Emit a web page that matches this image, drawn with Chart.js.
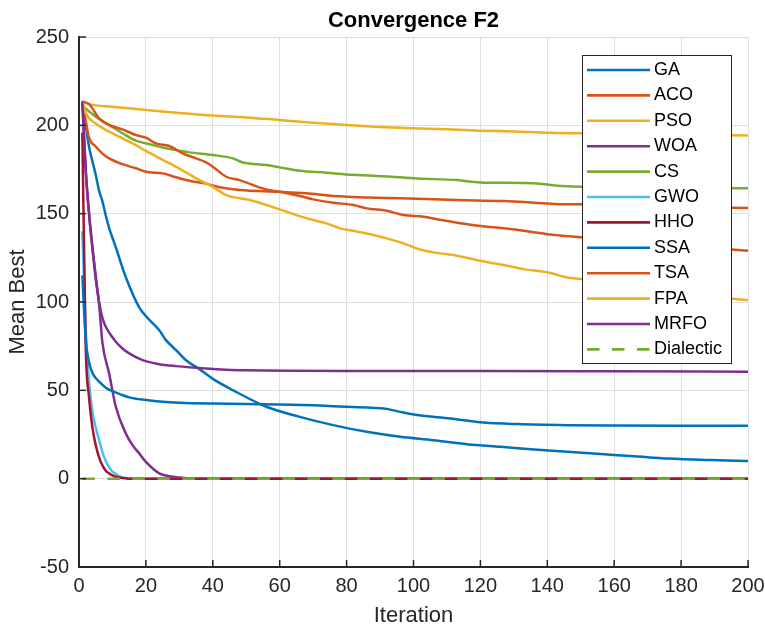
<!DOCTYPE html>
<html><head><meta charset="utf-8">
<script src="https://cdn.jsdelivr.net/npm/chart.js@4.4.0/dist/chart.umd.min.js"></script>
<style>html,body{margin:0;padding:0;background:#fff;}canvas{display:block;}</style>
</head><body>
<canvas id="c" width="765" height="629"></canvas>
<script>
const chartTitle = 'Convergence F2';
const xTitle = 'Iteration';
const yTitle = 'Mean Best';
const xTicks = [0, 20, 40, 60, 80, 100, 120, 140, 160, 180, 200];
const yTicks = [-50, 0, 50, 100, 150, 200, 250];
const seriesNames = ['GA','ACO','PSO','WOA','CS','GWO','HHO','SSA','TSA','FPA','MRFO','Dialectic'];
const seriesColors = ['#0072BD','#D95319','#EDB120','#7E2F8E','#77AC30','#4DBEEE','#A2142F','#0072BD','#D95319','#EDB120','#7E2F8E','#77AC30'];

const gaIter = [1, 2, 3, 5, 6, 7, 8, 9, 11, 14, 18, 21, 24, 26, 29, 32, 36, 40, 46, 56, 66, 76, 86, 96, 106, 116, 126, 136, 146, 156, 166, 176, 189, 200];
const gaVals = [213.5, 200, 188, 172, 163, 157, 149, 142, 131, 114, 97, 90, 84, 78.4, 72.8, 67, 62, 56.5, 50.1, 40.7, 35, 30.3, 26.5, 23.7, 21.8, 19.5, 18, 16.5, 15.2, 13.9, 12.7, 11.4, 10.5, 10];

const acoIter = [1, 2, 3, 5, 7, 9, 13, 17, 20, 25, 29, 33, 38, 42, 48, 60, 68, 76, 86, 96, 113, 127, 136, 143, 150, 160, 170, 180, 190, 200];
const acoVals = [213.5, 203, 193, 188, 184, 181.3, 178, 175.7, 173.7, 172.8, 170.6, 168.6, 167, 165, 163.4, 162.4, 161.5, 160, 159.2, 158.7, 157.7, 157.1, 156.2, 155.4, 155.3, 154.8, 154.3, 153.8, 153.5, 153.2];

const psoIter = [1, 3, 10, 20, 30, 40, 50, 60, 70, 80, 90, 100, 110, 120, 130, 140, 150, 160, 170, 180, 190, 200];
const psoVals = [213.5, 212, 210.5, 208.7, 207, 205.5, 204.5, 203, 201.5, 200.2, 199, 198.3, 197.8, 197, 196.5, 195.8, 195.5, 195.2, 195, 194.8, 194.5, 194.2];

const woaIter = [1, 2, 3, 4, 5, 6, 7, 9, 11, 14, 16, 18, 20, 24, 27, 30, 33, 35, 200];
const woaVals = [213.5, 175, 150, 131, 113, 99, 77, 59.6, 40.7, 25.6, 19, 14.3, 9.5, 3, 1.4, 0.6, 0.1, 0, 0];

const csIter = [1, 5, 9, 13, 17, 20, 25, 29, 33, 40, 46, 49, 56, 60, 66, 74, 80, 88, 96, 100, 113, 120, 136, 143, 150, 160, 170, 180, 190, 200];
const csVals = [211, 204.9, 200.2, 195.5, 191.3, 189.8, 187.5, 186, 184.7, 183.2, 181.3, 179, 177.5, 176.2, 174.3, 173.2, 172.2, 171.5, 170.6, 170, 169, 167.7, 167.2, 165.8, 165.2, 165, 164.8, 164.6, 164.5, 164.4];

const gwoIter = [1, 2, 3, 4, 5, 6, 7, 8, 9, 10, 11, 12, 13, 14, 15, 200];
const gwoVals = [140, 85, 55, 38, 29, 22, 15, 10, 6.5, 4, 2.8, 1.5, 0.8, 0.3, 0, 0];

const hhoIter = [1, 2, 3, 4, 5, 6, 7, 8, 9, 10, 11, 12, 13, 14, 15, 200];
const hhoVals = [196, 75, 46, 29, 19, 12, 7.5, 4.5, 3, 1.8, 1.1, 0.7, 0.4, 0.2, 0, 0];

const ssaIter = [1, 2, 3, 4, 5, 6, 8, 10, 12, 15, 20, 25, 30, 40, 50, 60, 70, 76, 86, 92, 96, 101, 111, 121, 131, 146, 160, 180, 200];
const ssaVals = [115, 79, 66, 60, 57, 55, 51.5, 49.5, 48, 46, 44.5, 43.5, 43, 42.5, 42.2, 42, 41.5, 41, 40.3, 39.5, 37.8, 36, 34.1, 31.8, 30.9, 30.3, 30.1, 30, 30];

const tsaIter = [1, 3, 6, 9, 13, 17, 20, 23, 27, 31, 35, 38, 40, 44, 48, 52, 56, 60, 66, 70, 76, 82, 86, 92, 97, 103, 107, 113, 120, 127, 135, 140, 150, 160, 170, 180, 190, 200];
const tsaVals = [213.5, 212, 204, 200.2, 197.7, 194.5, 193, 189.8, 188.3, 184.1, 181.3, 179, 176.6, 170.9, 169, 166.2, 163.7, 162.4, 160, 158.1, 156.2, 154.9, 153, 151.6, 149.2, 148.2, 146.8, 144.9, 143, 141.7, 139.8, 138.4, 136.6, 135, 133.5, 132, 130.5, 129];

const fpaIter = [1, 2, 5, 9, 13, 17, 20, 25, 30, 36, 40, 44, 48, 51, 56, 60, 65, 70, 74, 78, 82, 88, 92, 97, 101, 106, 113, 120, 127, 133, 140, 146, 150, 160, 170, 180, 190, 200];
const fpaVals = [213.5, 207, 201, 196.4, 192.6, 188.8, 185.5, 180.5, 175.5, 169, 165.2, 160.5, 158.7, 157.7, 154.9, 152.4, 149.2, 146.4, 144.5, 141.7, 140.3, 137.9, 136, 133.2, 130.3, 128.1, 126.2, 123.3, 120.9, 118.6, 116.8, 113.9, 113, 110, 107.5, 105, 103, 101];

const mrfoIter = [1, 2, 3, 4, 5, 6, 7, 8, 10, 11, 13, 15, 19, 24, 29, 38, 50, 80, 120, 160, 200];
const mrfoVals = [213.5, 175, 150, 131, 115, 100, 91, 86, 80, 77.5, 73.7, 70.9, 67.1, 64.8, 63.7, 62.4, 61.3, 61, 61, 60.8, 60.5];

const dialecticIter = [1, 200];
const dialecticVals = [0, 0];

const seriesIters = [gaIter, acoIter, psoIter, woaIter, csIter, gwoIter, hhoIter, ssaIter, tsaIter, fpaIter, mrfoIter, dialecticIter];
const seriesVals = [gaVals, acoVals, psoVals, woaVals, csVals, gwoVals, hhoVals, ssaVals, tsaVals, fpaVals, mrfoVals, dialecticVals];

const FONT = "'Liberation Sans', Arial, Helvetica, sans-serif";
const N = seriesNames.length;

const datasets = seriesNames.map((name, i) => ({
  label: name,
  data: seriesIters[i].map((x, k) => ({ x: x, y: seriesVals[i][k] })),
  borderColor: seriesColors[i],
  backgroundColor: seriesColors[i],
  borderWidth: 2.5,
  borderDash: name === 'Dialectic' ? [12.5, 12.5] : [],
  pointRadius: 0,
  fill: false,
  cubicInterpolationMode: 'monotone',
  order: N - 1 - i
}));

const inwardTicks = {
  id: 'inwardTicks',
  afterDraw(chart) {
    const { ctx, chartArea: a, scales: { x, y } } = chart;
    ctx.save();
    ctx.strokeStyle = '#262626';
    ctx.lineWidth = 1.5;
    x.ticks.forEach(t => {
      const px = x.getPixelForValue(t.value);
      ctx.beginPath(); ctx.moveTo(px, a.bottom); ctx.lineTo(px, a.bottom - 7); ctx.stroke();
    });
    y.ticks.forEach(t => {
      const py = y.getPixelForValue(t.value);
      ctx.beginPath(); ctx.moveTo(a.left, py); ctx.lineTo(a.left + 7, py); ctx.stroke();
    });
    ctx.restore();
  }
};

const titleDraw = {
  id: 'titleDraw',
  afterDraw(chart) {
    const { ctx, chartArea: a } = chart;
    ctx.save();
    ctx.fillStyle = '#000';
    ctx.font = 'bold 22px ' + FONT;
    ctx.textAlign = 'center';
    ctx.textBaseline = 'middle';
    ctx.fillText(chartTitle, (a.left + a.right) / 2, 20.5);
    ctx.restore();
  }
};

const boxLegend = {
  id: 'boxLegend',
  afterDraw(chart) {
    const { ctx } = chart;
    const bx = 582, by = 55, bw = 149, bh = 308;
    const rowH = 25.4, firstY = 70;
    ctx.save();
    ctx.fillStyle = '#fff';
    ctx.fillRect(bx, by, bw, bh);
    ctx.strokeStyle = '#262626';
    ctx.lineWidth = 1;
    ctx.strokeRect(bx + 0.5, by + 0.5, bw, bh);
    ctx.font = '18px ' + FONT;
    ctx.textBaseline = 'middle';
    ctx.textAlign = 'left';
    chart.data.datasets.forEach((ds, i) => {
      const yy = firstY + i * rowH;
      ctx.strokeStyle = ds.borderColor;
      ctx.lineWidth = 2.6;
      ctx.setLineDash(ds.borderDash || []);
      ctx.beginPath(); ctx.moveTo(587, yy); ctx.lineTo(650, yy); ctx.stroke();
      ctx.setLineDash([]);
      ctx.fillStyle = '#000';
      ctx.fillText(ds.label, 654, yy);
    });
    ctx.restore();
  }
};

new Chart(document.getElementById('c'), {
  type: 'line',
  data: { datasets: datasets },
  options: {
    responsive: false,
    animation: false,
    layout: { padding: { top: 37, right: 17, left: 0, bottom: 0 } },
    plugins: {
      legend: { display: false },
      title: { display: false },
      tooltip: { enabled: false }
    },
    scales: {
      x: {
        type: 'linear',
        min: 0, max: 200,
        afterFit: s => { s.height = 62; s.paddingLeft = 0; s.paddingRight = 0; },
        afterBuildTicks: s => { s.ticks = xTicks.map(v => ({ value: v })); },
        ticks: { padding: 7, color: '#262626', font: { family: FONT, size: 20 } },
        grid: { color: '#dfdfdf', lineWidth: 1, drawTicks: false },
        border: { display: true, color: '#262626', width: 2 },
        title: { display: true, text: xTitle, color: '#262626', font: { family: FONT, size: 22 }, padding: { top: 0, bottom: 0 } }
      },
      y: {
        type: 'linear',
        min: -50, max: 250,
        afterFit: s => { s.width = 79; s.paddingTop = 0; s.paddingBottom = 0; },
        afterBuildTicks: s => { s.ticks = yTicks.map(v => ({ value: v })); },
        ticks: { padding: 10, color: '#262626', font: { family: FONT, size: 20 } },
        grid: { color: '#dfdfdf', lineWidth: 1, drawTicks: false },
        border: { display: true, color: '#262626', width: 2 },
        title: { display: true, text: yTitle, color: '#262626', font: { family: FONT, size: 22 }, padding: { top: 5, bottom: 0 } }
      }
    }
  },
  plugins: [inwardTicks, titleDraw, boxLegend]
});
</script>
</body></html>
